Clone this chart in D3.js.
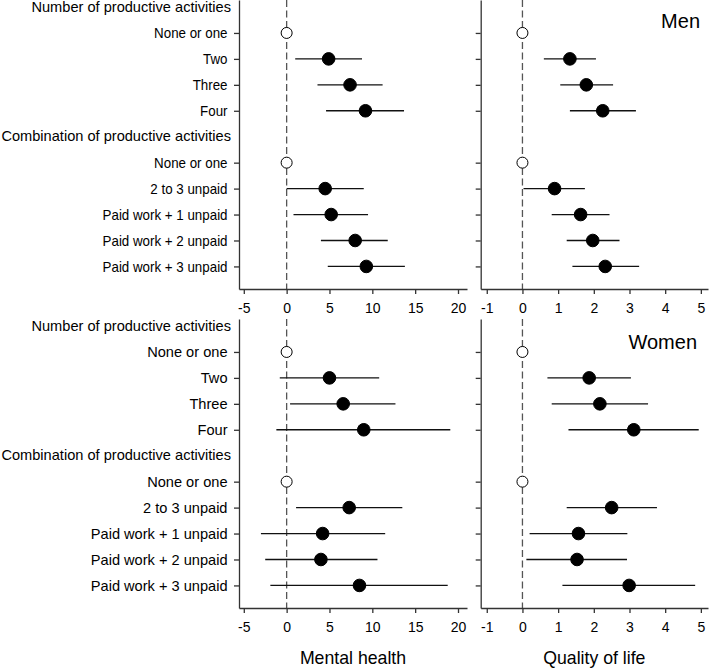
<!DOCTYPE html>
<html>
<head>
<meta charset="utf-8">
<script src="https://cdn.jsdelivr.net/npm/d3@7"></script>
<style>
  body { margin: 0; background: #fff; }
  text { font-family: "Liberation Sans", Arial, sans-serif; fill: #000; }
  .axis path, .axis line { stroke: #333; stroke-width: 1.3; }
  .axis text { font-size: 14px; fill: #000; }
</style>
</head>
<body>
<div id="chart"></div>
<script>
// rows of the forest plot (headers have no estimate)
var rows = ["Number of productive activities", "None or one", "Two", "Three", "Four",
            "Combination of productive activities", "None or one", "2 to 3 unpaid",
            "Paid work + 1 unpaid", "Paid work + 2 unpaid", "Paid work + 3 unpaid"];
var headerRows = [0, 5];
var refRows = [1, 6];

var mhTicks = [-5, 0, 5, 10, 15, 20];
var qolTicks = [-1, 0, 1, 2, 3, 4, 5];

// Men - mental health
var menMH    = [null, 0, 4.9, 7.4, 9.2, null, 0, 4.5, 5.2, 8.0, 9.3];
var menMHlo  = [null, 0, 1.0, 3.6, 4.6, null, 0, 0.0, 0.8, 4.0, 4.8];
var menMHhi  = [null, 0, 8.8, 11.2, 13.7, null, 0, 9.0, 9.5, 11.8, 13.8];
// Men - quality of life
var menQ     = [null, 0, 1.33, 1.79, 2.25, null, 0, 0.90, 1.63, 1.97, 2.32];
var menQlo   = [null, 0, 0.60, 1.06, 1.33, null, 0, 0.03, 0.82, 1.24, 1.40];
var menQhi   = [null, 0, 2.06, 2.54, 3.18, null, 0, 1.75, 2.44, 2.72, 3.27];
// Women - mental health
var womMH    = [null, 0, 5.0, 6.6, 9.0, null, 0, 7.3, 4.2, 4.0, 8.5];
var womMHlo  = [null, 0, -0.8, 0.4, -1.2, null, 0, 1.1, -3.0, -2.5, -1.9];
var womMHhi  = [null, 0, 10.8, 12.7, 19.1, null, 0, 13.5, 11.5, 10.6, 18.8];
// Women - quality of life
var womQ     = [null, 0, 1.87, 2.17, 3.12, null, 0, 2.50, 1.57, 1.53, 2.99];
var womQlo   = [null, 0, 0.70, 0.82, 1.29, null, 0, 1.24, 0.20, 0.11, 1.12];
var womQhi   = [null, 0, 3.04, 3.52, 4.94, null, 0, 3.77, 2.94, 2.93, 4.84];

var W = 709, H = 669;
var svg = d3.select("#chart").append("svg")
  .attr("width", W).attr("height", H);

var xMH = d3.scaleLinear().domain([-5.56, 21.05]).range([239, 467]);
var xQ  = d3.scaleLinear().domain([-1.17, 5.2]).range([480.7, 708]);
var y   = d3.scaleLinear().domain([-0.27, 10.87]).range([0, 289]);

var tickRows = d3.range(rows.length).filter(function(i){ return headerRows.indexOf(i) < 0; });

// squash = 0 means no row labels (right hand panels),
// otherwise horizontal squeeze of the row labels
function drawPanel(parent, x, ticks, est, lo, hi, squash) {
  var g = parent.append("g");
  var x0 = x.range()[0];
  var yBottom = y.range()[1];

  // reference line at zero
  g.append("line")
    .attr("x1", x(0)).attr("x2", x(0))
    .attr("y1", y.range()[0]).attr("y2", yBottom)
    .attr("stroke", "#555").attr("stroke-width", 1.3)
    .attr("stroke-dasharray", "7,3.5");

  // y axis
  var yAxis = d3.axisLeft(y)
    .tickValues(tickRows)
    .tickSize(5).tickSizeOuter(0).tickPadding(6.5)
    .tickFormat(function(i){ return squash ? rows[i] : ""; });
  var ya = g.append("g").attr("class", "axis")
    .attr("transform", "translate(" + x0 + ",0)")
    .call(yAxis);
  ya.selectAll("text").style("font-size", "14.6px");
  if (squash && squash < 1) {
    ya.selectAll("text").each(function(){
      var w = this.getComputedTextLength();
      d3.select(this).attr("textLength", w * squash)
        .attr("lengthAdjust", "spacingAndGlyphs");
    });
  }

  if (squash) {
    g.selectAll("text.header")
      .data(headerRows)
      .enter().append("text")
      .attr("class", "header")
      .attr("x", x0 - 8)
      .attr("y", function(i){ return y(i); })
      .attr("dy", "0.32em")
      .attr("text-anchor", "end")
      .style("font-size", "14.6px")
      .text(function(i){ return rows[i]; });
  }

  // x axis
  var xAxis = d3.axisBottom(x)
    .tickValues(ticks)
    .tickSize(5).tickSizeOuter(0).tickPadding(9)
    .tickFormat(function(d){ return String(d); });
  g.append("g").attr("class", "axis")
    .attr("transform", "translate(0," + yBottom + ")")
    .call(xAxis);

  var pts = tickRows.map(function(i){ return {i: i, e: est[i], lo: lo[i], hi: hi[i]}; });

  // confidence intervals
  g.selectAll("line.ci")
    .data(pts.filter(function(d){ return refRows.indexOf(d.i) < 0; }))
    .enter().append("line")
    .attr("class", "ci")
    .attr("x1", function(d){ return x(d.lo); })
    .attr("x2", function(d){ return x(d.hi); })
    .attr("y1", function(d){ return y(d.i); })
    .attr("y2", function(d){ return y(d.i); })
    .attr("stroke", "#111").attr("stroke-width", 1.3);

  // estimates
  g.selectAll("circle.pt")
    .data(pts)
    .enter().append("circle")
    .attr("class", "pt")
    .attr("cx", function(d){ return x(d.e); })
    .attr("cy", function(d){ return y(d.i); })
    .attr("r", function(d){ return refRows.indexOf(d.i) >= 0 ? 5.5 : 6.3; })
    .attr("fill", function(d){ return refRows.indexOf(d.i) >= 0 ? "#fff" : "#000"; })
    .attr("stroke", "#000").attr("stroke-width", 1);
}

var menG = svg.append("g");
drawPanel(menG, xMH, mhTicks, menMH, menMHlo, menMHhi, 0.914);
drawPanel(menG, xQ, qolTicks, menQ, menQlo, menQhi, 0);
menG.append("text")
  .attr("x", 700).attr("y", 27.5)
  .attr("text-anchor", "end")
  .style("font-size", "20px")
  .text("Men");

var womG = svg.append("g").attr("transform", "translate(0,319)");
drawPanel(womG, xMH, mhTicks, womMH, womMHlo, womMHhi, 1);
drawPanel(womG, xQ, qolTicks, womQ, womQlo, womQhi, 0);
womG.append("text")
  .attr("x", 697).attr("y", 30)
  .attr("text-anchor", "end")
  .style("font-size", "20px")
  .text("Women");

// axis titles
svg.append("text")
  .attr("x", (xMH.range()[0] + xMH.range()[1]) / 2).attr("y", 664)
  .attr("text-anchor", "middle")
  .style("font-size", "17.7px")
  .text("Mental health");
svg.append("text")
  .attr("x", (xQ.range()[0] + xQ.range()[1]) / 2).attr("y", 664)
  .attr("text-anchor", "middle")
  .style("font-size", "17.7px")
  .text("Quality of life");
</script>
</body>
</html>
